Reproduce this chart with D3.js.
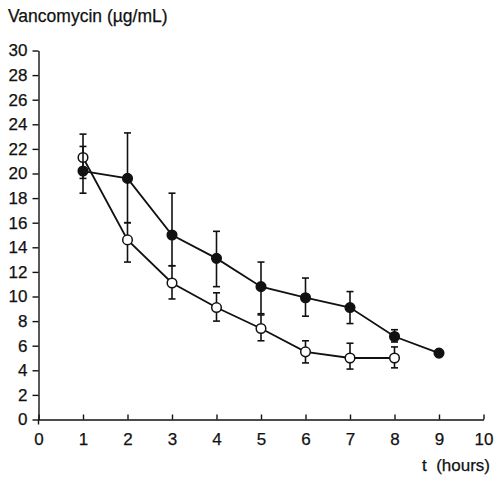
<!doctype html>
<html>
  <head>
    <meta charset="UTF-8"/>
    <title>Vancomycin</title>
    <script src="https://d3js.org/d3.v7.min.js"></script>
    <style>
      body { margin: 0; padding: 0; background: #fff; }
      svg text { font-family: "Liberation Sans", Arial, sans-serif; fill: #111; stroke: #111; stroke-width: 0.25px; }
    </style>
  </head>
  <body>
    <svg id="chart" width="495" height="477"></svg>
    <script>
      // data
      const hours = [1, 2, 3, 4, 5, 6, 7, 8, 9];
      const filledMean = [20.2, 19.6, 15.0, 13.1, 10.8, 9.9, 9.1, 6.75, 5.4];
      const filledLow = [18.4, 16.0, 12.5, 10.8, 8.6, 8.4, 7.8, 6.3, null];
      const filledHigh = [22.2, 23.3, 18.4, 15.3, 12.8, 11.5, 10.4, 7.3, null];

      const openHours = [1, 2, 3, 4, 5, 6, 7, 8];
      const openMean = [21.3, 14.6, 11.1, 9.1, 7.4, 5.5, 5.0, 5.0];
      const openLow = [19.6, 12.8, 9.8, 8.0, 6.4, 4.6, 4.1, 4.2];
      const openHigh = [23.2, 16.0, 12.5, 10.3, 8.5, 6.4, 6.2, 5.9];

      const xTicks = d3.range(0, 11);
      const yTicks = d3.range(0, 31, 2);

      const svg = d3.select("#chart");
      const x = d3.scaleLinear().domain([0, 10]).range([38.5, 483.5]);
      const y = d3.scaleLinear().domain([0, 30]).range([419.5, 50.5]);

      const xAxis = svg.append("g")
        .attr("transform", `translate(0,${y(0)})`)
        .call(d3.axisBottom(x).tickValues(xTicks).tickSize(-5).tickPadding(13).tickSizeOuter(0));
      const yAxis = svg.append("g")
        .attr("transform", `translate(${x(0)},0)`)
        .call(d3.axisLeft(y).tickValues(yTicks).tickSize(6).tickPadding(5).tickSizeOuter(0));

      [xAxis, yAxis].forEach(a => {
        a.selectAll("path, line").attr("stroke", "#111").attr("stroke-width", 1.4);
        a.selectAll("text").style("font-size", "17px").attr("fill", "#111");
      });
      // small tail of the y-axis below zero, like the original
      svg.append("line").attr("x1", x(0)).attr("x2", x(0)).attr("y1", y(0)).attr("y2", y(0) + 5)
        .attr("stroke", "#111").attr("stroke-width", 1.4);

      svg.append("text").attr("x", 8).attr("y", 22).style("font-size", "17.5px").text("Vancomycin (µg/mL)");
      svg.append("text").attr("x", 490).attr("y", 471).attr("text-anchor", "end")
        .attr("xml:space", "preserve").style("white-space", "pre")
        .style("font-size", "17px").text("t  (hours)");

      function drawSeries(xs, mean, low, high, fill) {
        const pts = xs.map((t, i) => ({t, m: mean[i], lo: low[i], hi: high[i]}));
        const g = svg.append("g");
        const bars = pts.filter(d => d.lo != null);
        g.selectAll(".eb").data(bars).join("line")
          .attr("x1", d => x(d.t)).attr("x2", d => x(d.t))
          .attr("y1", d => y(d.lo)).attr("y2", d => y(d.hi))
          .attr("stroke", "#111").attr("stroke-width", 1.6);
        ["lo", "hi"].forEach(k => {
          g.selectAll(".cap" + k).data(bars).join("line")
            .attr("x1", d => x(d.t) - 3.5).attr("x2", d => x(d.t) + 3.5)
            .attr("y1", d => y(d[k])).attr("y2", d => y(d[k]))
            .attr("stroke", "#111").attr("stroke-width", 1.6);
        });
        g.append("path").datum(pts)
          .attr("d", d3.line().x(d => x(d.t)).y(d => y(d.m)))
          .attr("fill", "none").attr("stroke", "#111").attr("stroke-width", 1.8);
        g.selectAll("circle").data(pts).join("circle")
          .attr("cx", d => x(d.t)).attr("cy", d => y(d.m)).attr("r", 4.8)
          .attr("fill", fill).attr("stroke", "#111").attr("stroke-width", 1.5);
      }

      drawSeries(openHours, openMean, openLow, openHigh, "#fff");
      drawSeries(hours, filledMean, filledLow, filledHigh, "#111");
    </script>
  </body>
</html>
